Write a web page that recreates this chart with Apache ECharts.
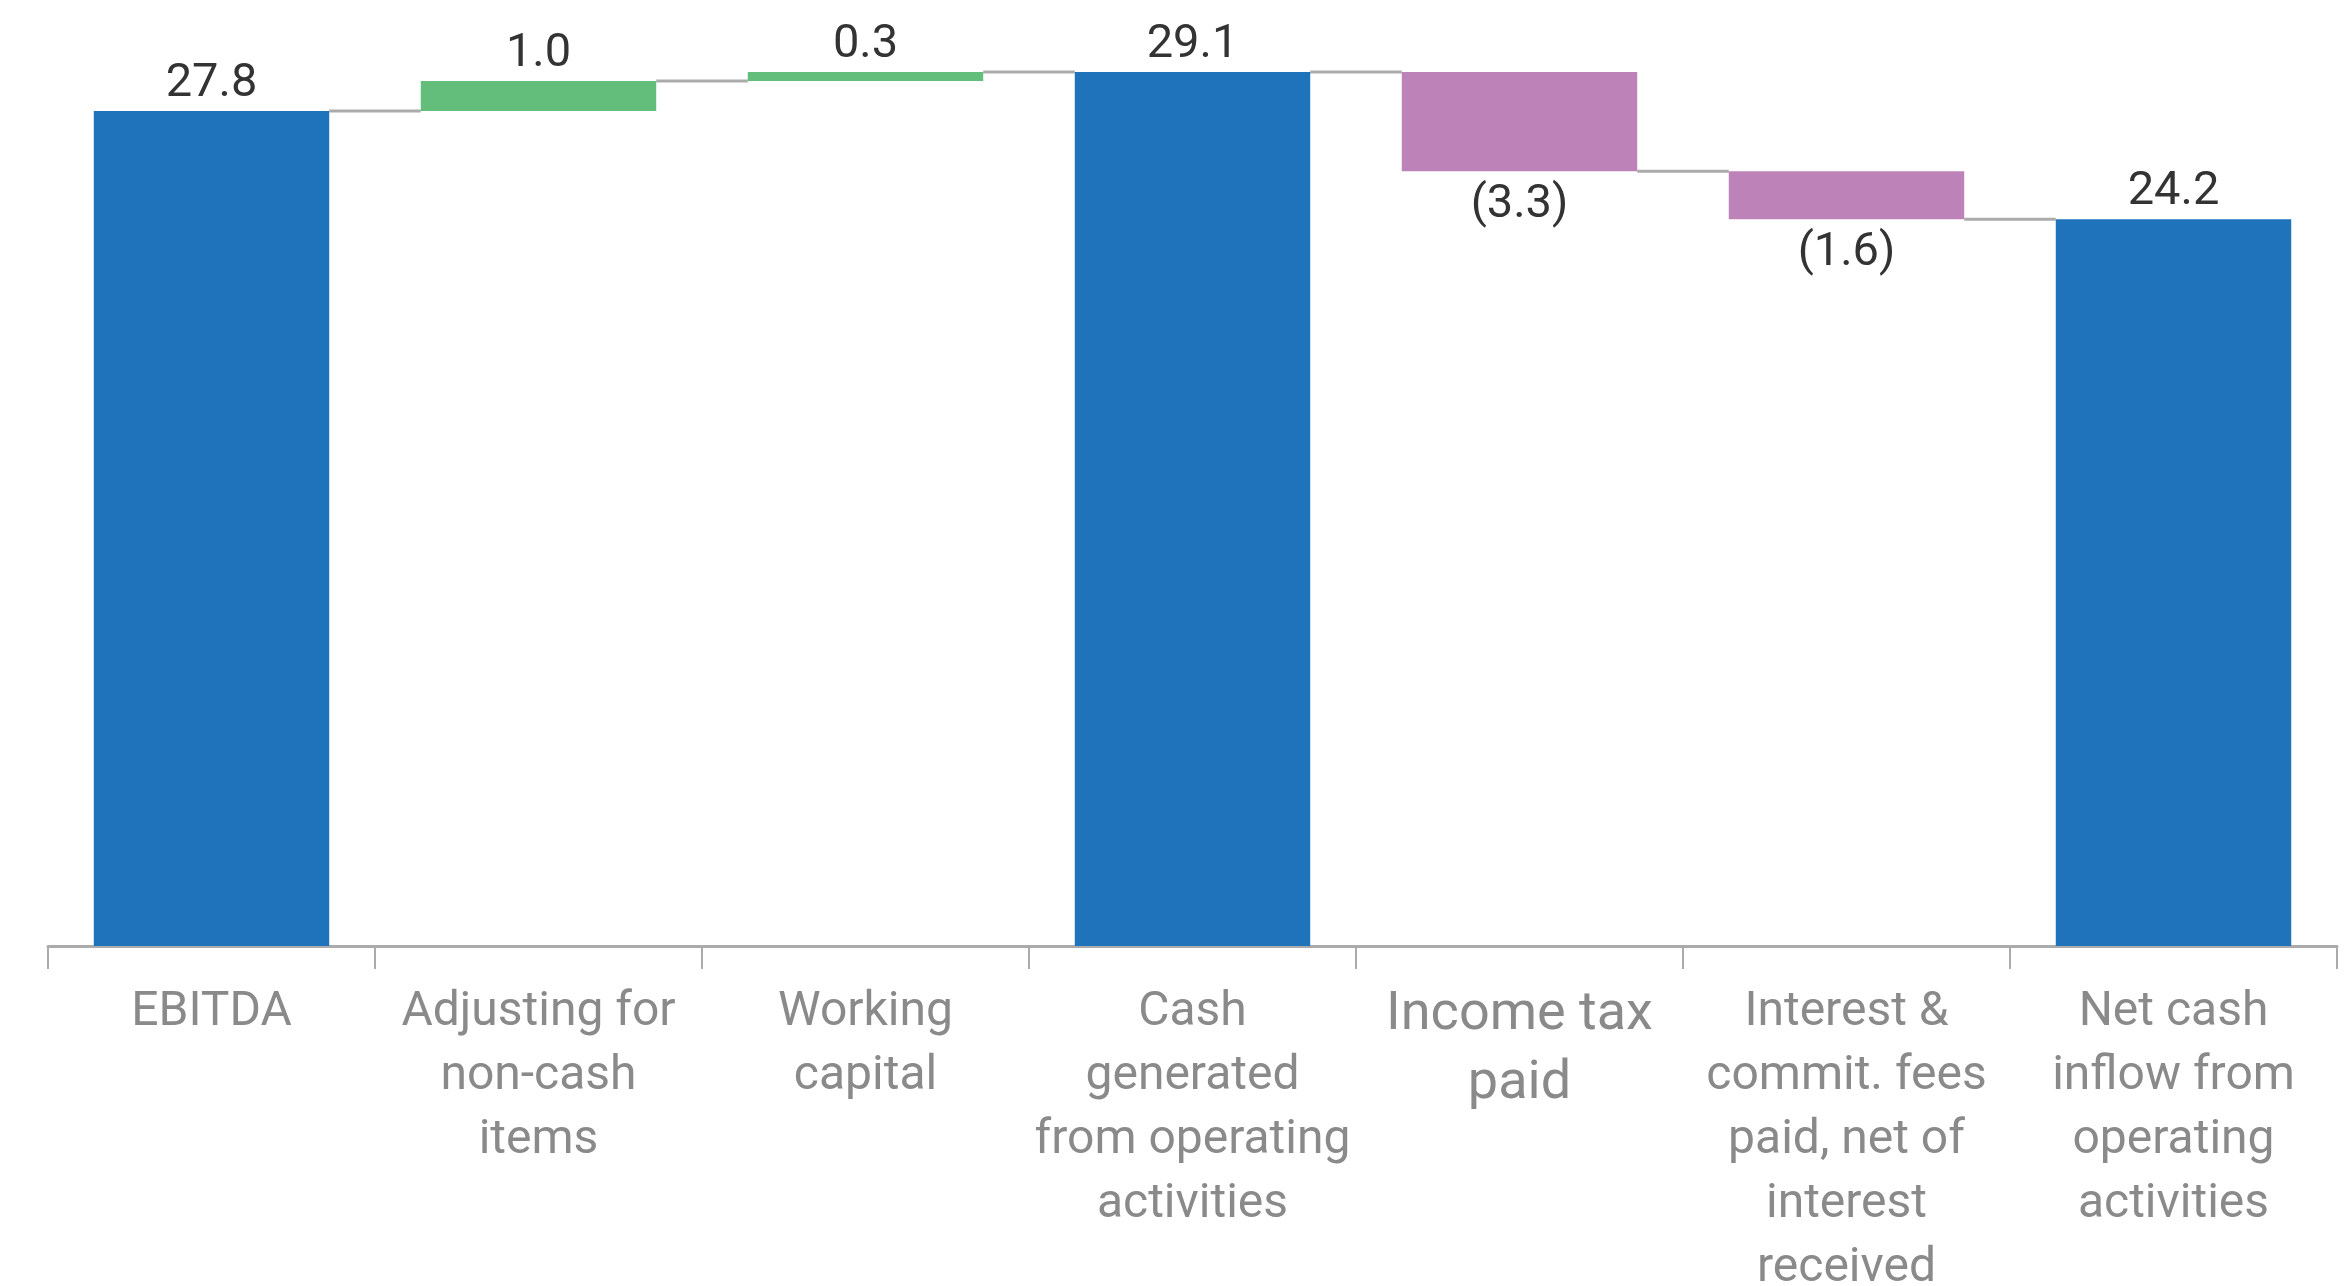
<!DOCTYPE html>
<html>
<head>
<meta charset="utf-8">
<script src="https://cdn.jsdelivr.net/npm/echarts@6/dist/echarts.min.js"></script>
<style>
html,body{margin:0;padding:0;background:#fff;}
#chart{width:2352px;height:1286px;}
</style>
</head>
<body>
<div id="chart"></div>
<script>
const categories = [
  'EBITDA',
  'Adjusting for\nnon-cash\nitems',
  'Working\ncapital',
  'Cash\ngenerated\nfrom operating\nactivities',
  'Income tax\npaid',
  'Interest &\ncommit. fees\npaid, net of\ninterest\nreceived',
  'Net cash\ninflow from\noperating\nactivities'
];
const values = [27.8, 1.0, 0.3, 29.1, -3.3, -1.6, 24.2];
const kinds = ['total', 'delta', 'delta', 'total', 'delta', 'delta', 'total'];

const BLUE = '#1e73ba', GREEN = '#63be7b', PURPLE = '#bd83b8';

// compute base / height / running level
const base = [], height = [], level = [];
let run = 0;
for (let i = 0; i < values.length; i++) {
  const v = values[i];
  if (kinds[i] === 'total') {
    base.push(0); height.push(v); run = v;
  } else {
    const next = run + v;
    base.push(Math.min(run, next));
    height.push(Math.abs(v));
    run = next;
  }
  level.push(run);
}

const visData = values.map((v, i) => {
  const color = kinds[i] === 'total' ? BLUE : (v >= 0 ? GREEN : PURPLE);
  return {
    value: height[i],
    itemStyle: { color },
    label: v >= 0 ? { position: 'top', distance: 3 } : { position: 'bottom', distance: 11 }
  };
});

const connectors = [];
for (let i = 0; i < values.length - 1; i++) connectors.push([i, level[i]]);

const axisData = categories.map(c => c.startsWith('Income')
  ? { value: c, textStyle: { fontSize: 54, lineHeight: 69 } }
  : c);

const chart = echarts.init(document.getElementById('chart'));
chart.setOption({
  animation: false,
  grid: { left: 48, right: 15, top: 0, bottom: 340, outerBoundsMode: 'none', containLabel: false },
  xAxis: {
    type: 'category',
    data: axisData,
    axisLine: { lineStyle: { color: '#ababab', width: 3 } },
    axisTick: { show: true, length: 23, lineStyle: { color: '#ababab', width: 2 } },
    axisLabel: {
      interval: 0,
      color: '#8a8a8a',
      fontFamily: 'Roboto',
      fontSize: 48,
      lineHeight: 64,
      margin: 35
    }
  },
  yAxis: { type: 'value', min: 0, max: 31.5, show: false, splitLine: { show: false } },
  series: [
    {
      type: 'bar', stack: 'w', barWidth: '72%',
      itemStyle: { color: 'transparent' },
      data: base, silent: true
    },
    {
      type: 'bar', stack: 'w', barWidth: '72%',
      data: visData,
      label: {
        show: true,
        color: '#333',
        fontFamily: 'Roboto',
        fontSize: 47,
        formatter: p => {
          const v = values[p.dataIndex];
          return v < 0 ? '(' + Math.abs(v).toFixed(1) + ')' : v.toFixed(1);
        }
      }
    },
    {
      type: 'custom',
      data: connectors,
      z: 1,
      renderItem: (params, api) => {
        const i = api.value(0);
        const y = api.value(1);
        const p0 = api.coord([i, y]);
        const p1 = api.coord([i + 1, y]);
        const bw = api.size([1, 0])[0] * 0.72;
        return {
          type: 'line',
          shape: { x1: p0[0] + bw / 2, y1: p0[1], x2: p1[0] - bw / 2, y2: p1[1] },
          style: { stroke: '#ababab', lineWidth: 3 }
        };
      }
    }
  ]
});
</script>
</body>
</html>
